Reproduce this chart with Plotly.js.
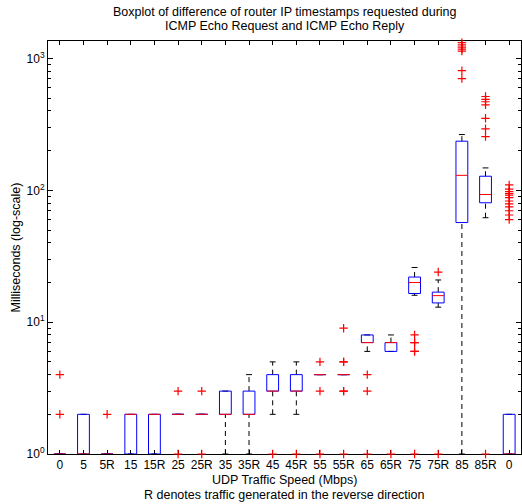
<!DOCTYPE html>
<html>
<head>
<meta charset="utf-8">
<script src="https://cdn.plot.ly/plotly-3.0.1.min.js"></script>
<style>html,body{margin:0;padding:0;background:#fff;}</style>
</head>
<body>
<div id="chart" style="width:522px;height:504px;"></div>
<script>
// ---- data ----
const categories = ["0","5","5R","15","15R","25","25R","35","35R","45","45R","55","55R","65","65R","75","75R","85","85R","0"];
const q1Values     = [1, 1, 1, 1, 1, 2, 2, 2, 2, 3, 3, 4, 4, 7, 6, 16.5, 14, 57, 80.5, 1];
const medianValues = [1, 1, 1, 2, 2, 2, 2, 2, 2, 3, 3, 4, 4, 7, 7, 20, 15.9, 130, 93, 1];
const q3Values     = [1, 2, 1, 2, 2, 2, 2, 3, 3, 4, 4, 4, 4, 8, 7, 22, 16.9, 236, 128, 2];
const whiskerLow   = [1, 1, 1, 1, 1, 2, 2, 1, 1, 2, 2, 4, 4, 6, 6, 16, 13, 1, 62, 1];
const whiskerHigh  = [1, 2, 1, 2, 2, 2, 2, 3, 4, 5, 5, 4, 4, 8, 8, 26, 20.9, 265, 148, 2];
const outlierValues = [
  [2, 4],
  [],
  [2],
  [],
  [],
  [1, 3],
  [1, 3],
  [],
  [],
  [1],
  [1],
  [1, 3, 5],
  [1, 3, 3, 5, 5, 9],
  [1, 3, 4],
  [1],
  [1, 6, 6, 7, 7, 8],
  [1, 24],
  [705, 810, 1140, 1180, 1220, 1270, 1320],
  [1, 256, 293, 352, 445, 470, 490, 515],
  [60, 65, 70, 75, 79, 83, 88, 92, 95, 98, 102, 110]
];
const yTickValues = [1, 10, 100, 1000];
const yTickLabels = ["10<sup>0</sup>", "10<sup>1</sup>", "10<sup>2</sup>", "10<sup>3</sup>"];
const titleLines = ["Boxplot of difference of router IP timestamps requested during", "ICMP Echo Request and ICMP Echo Reply"];
const xTitleLines = ["UDP Traffic Speed (Mbps)", "R denotes traffic generated in the reverse direction"];
const yTitle = "Milliseconds (log-scale)";

// ---- build marks ----
const BOX_W = 0.5, CAP_W = 0.25;
const positions = categories.map((c, i) => i + 1);
const wx = [], wy = [], cx = [], cy = [], bx = [], by = [], mx = [], my = [], ox = [], oy = [];
positions.forEach((p, i) => {
  if (whiskerHigh[i] > q3Values[i]) { wx.push(p, p, null); wy.push(q3Values[i], whiskerHigh[i], null); }
  if (whiskerLow[i] < q1Values[i]) { wx.push(p, p, null); wy.push(whiskerLow[i], q1Values[i], null); }
  cx.push(p - CAP_W / 2, p + CAP_W / 2, null, p - CAP_W / 2, p + CAP_W / 2, null);
  cy.push(whiskerHigh[i], whiskerHigh[i], null, whiskerLow[i], whiskerLow[i], null);
  bx.push(p - BOX_W / 2, p + BOX_W / 2, p + BOX_W / 2, p - BOX_W / 2, p - BOX_W / 2, null);
  by.push(q1Values[i], q1Values[i], q3Values[i], q3Values[i], q1Values[i], null);
  mx.push(p - BOX_W / 2, p + BOX_W / 2, null);
  my.push(medianValues[i], medianValues[i], null);
  outlierValues[i].forEach(v => { ox.push(p); oy.push(v); });
});

const traces = [
  {x: wx, y: wy, mode: 'lines', line: {color: '#000', width: 1, dash: '5px,4px'}, hoverinfo: 'skip', cliponaxis: false},
  {x: cx, y: cy, mode: 'lines', line: {color: '#000', width: 1}, hoverinfo: 'skip', cliponaxis: false},
  {x: bx, y: by, mode: 'lines', line: {color: '#0000ff', width: 1}, hoverinfo: 'skip', cliponaxis: false},
  {x: mx, y: my, mode: 'lines', line: {color: '#ff0000', width: 1}, hoverinfo: 'skip', cliponaxis: false},
  {x: ox, y: oy, mode: 'markers', marker: {symbol: 'cross-thin', size: 6, line: {color: '#ff0000', width: 1.2}}, hoverinfo: 'skip', cliponaxis: false}
];

const minorVals = [];
[1, 10, 100, 1000].forEach(d => { for (let k = 2; k <= 9; k++) minorVals.push(d * k); });

const FONT = 'Liberation Sans, Arial, Helvetica, sans-serif';
const layout = {
  width: 522, height: 504,
  margin: {l: 48, r: 1, t: 41, b: 50, pad: 0},
  paper_bgcolor: '#fff', plot_bgcolor: '#fff',
  showlegend: false,
  font: {family: FONT, size: 12, color: '#000'},
  xaxis: {
    range: [0.5, 20.5], tickmode: 'array', tickvals: positions, ticktext: categories,
    ticks: 'inside', ticklen: 4, tickcolor: '#000', tickwidth: 1,
    showline: true, linecolor: '#000', linewidth: 1, mirror: 'ticks',
    showgrid: false, zeroline: false, layer: 'below traces',
    tickfont: {family: FONT, size: 12, color: '#000'}
  },
  yaxis: {
    type: 'log', range: [0, 3.133], tickmode: 'array', tickvals: yTickValues, ticktext: yTickLabels,
    ticks: 'inside', ticklen: 5, tickcolor: '#000', tickwidth: 1,
    minor: {tickmode: 'array', tickvals: minorVals, ticks: 'inside', ticklen: 3, tickcolor: '#000', showgrid: false},
    showline: true, linecolor: '#000', linewidth: 1, mirror: 'ticks',
    showgrid: false, zeroline: false, layer: 'below traces',
    tickfont: {family: FONT, size: 12, color: '#000'}
  },
  annotations: [
    {text: titleLines[0], xref: 'paper', yref: 'paper', x: 0.5, y: 1, yshift: 29, yanchor: 'middle', showarrow: false, font: {family: FONT, size: 12.5}},
    {text: titleLines[1], xref: 'paper', yref: 'paper', x: 0.5, y: 1, yshift: 15.5, yanchor: 'middle', showarrow: false, font: {family: FONT, size: 12.5}},
    {text: xTitleLines[0], xref: 'paper', yref: 'paper', x: 0.5, y: 0, yshift: -26, yanchor: 'middle', showarrow: false, font: {family: FONT, size: 12.5}},
    {text: xTitleLines[1], xref: 'paper', yref: 'paper', x: 0.5, y: 0, yshift: -40.5, yanchor: 'middle', showarrow: false, font: {family: FONT, size: 12.5}},
    {text: yTitle, xref: 'paper', yref: 'paper', x: 0, xshift: -33, y: 0.5, textangle: -90, xanchor: 'center', yanchor: 'middle', showarrow: false, font: {family: FONT, size: 12.5}}
  ]
};

Plotly.newPlot('chart', traces, layout, {staticPlot: true, displayModeBar: false});
</script>
</body>
</html>
